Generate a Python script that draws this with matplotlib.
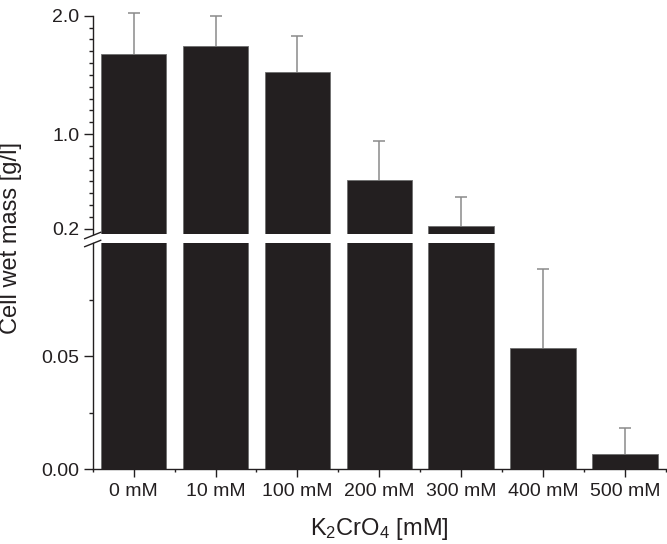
import matplotlib
matplotlib.use("Agg")
import matplotlib.pyplot as plt
from matplotlib.ticker import FixedLocator, MultipleLocator, FormatStrFormatter
from matplotlib.lines import Line2D

plt.rcParams['font.family'] = ['Liberation Sans', 'DejaVu Sans']
plt.rcParams['mathtext.fontset'] = 'custom'
plt.rcParams['mathtext.rm'] = 'Liberation Sans'
plt.rcParams['mathtext.it'] = 'Liberation Sans:italic'
plt.rcParams['mathtext.bf'] = 'Liberation Sans:bold'

categories = ['0 mM', '10 mM', '100 mM', '200 mM', '300 mM', '400 mM', '500 mM']
values = [1.674, 1.744, 1.527, 0.609, 0.225, 0.0534, 0.0065]
errors = [0.352, 0.254, 0.304, 0.335, 0.245, 0.0353, 0.0115]

upper_major = [0.2, 1.0, 2.0]
lower_major = [0.0, 0.05]
lower_minor = [0.025, 0.075]

BAR = '#231f20'
EDGE = '#6e6e6e'
ERR = '#8a8a8a'
AX = '#231f20'

W, H = 667, 544
fig = plt.figure(figsize=(W / 100, H / 100), dpi=100)

left = 92.7 / W
width = (666 - 92.7) / W
ax_lo = fig.add_axes([left, (H - 469) / H, width, (469 - 243.3) / H])
ax_hi = fig.add_axes([left, (H - 234) / H, width, (234 - 9.8) / H])

x = list(range(len(categories)))
for ax in (ax_lo, ax_hi):
    ax.bar(x, values, width=0.8, color=BAR, edgecolor=EDGE, linewidth=0.6, zorder=2)
    _, caps, _ = ax.errorbar(x, values, yerr=[[0] * len(values), errors], fmt='none',
                             ecolor=ERR, elinewidth=1.1, capsize=4, capthick=1.1, zorder=3)
    # hide the lower caps (one-sided error bars)
    if len(caps) == 2:
        caps[0].set_visible(False)
    ax.set_xlim(-0.5, 6.5)
    ax.spines['top'].set_visible(False)
    ax.spines['right'].set_visible(False)
    ax.spines['left'].set_linewidth(1.0)
    ax.spines['left'].set_color(AX)
    ax.tick_params(axis='y', which='major', direction='out', length=6.5, width=1.0,
                   color=AX, labelsize=14, pad=3, labelcolor='#231f20')
    ax.tick_params(axis='y', which='minor', direction='out', length=3.2, width=1.0, color=AX)
    ax.patch.set_alpha(0)

ax_hi.set_ylim(0.155, 2.05)
ax_hi.spines['left'].set_bounds(0.155, 2.0)
ax_hi.spines['bottom'].set_visible(False)
ax_hi.yaxis.set_major_locator(FixedLocator(upper_major))
ax_hi.yaxis.set_minor_locator(MultipleLocator(0.1))
ax_hi.yaxis.set_major_formatter(FormatStrFormatter('%.1f'))
ax_hi.set_xticks([])

ax_lo.set_ylim(0, 0.1)
ax_lo.yaxis.set_major_locator(FixedLocator(lower_major))
ax_lo.yaxis.set_minor_locator(FixedLocator(lower_minor))
ax_lo.yaxis.set_major_formatter(FormatStrFormatter('%.2f'))
ax_lo.spines['bottom'].set_linewidth(1.0)
ax_lo.spines['bottom'].set_color(AX)
ax_lo.set_xticks(x)
ax_lo.set_xticklabels(categories)
ax_lo.xaxis.set_minor_locator(FixedLocator([i - 0.5 for i in range(len(categories) + 1)]))
ax_lo.tick_params(axis='x', which='major', direction='out', length=6, width=1.0,
                  color=AX, labelsize=14, pad=4, labelcolor='#231f20')
ax_lo.tick_params(axis='x', which='minor', direction='out', length=2.5, width=1.0, color=AX)

# break marks
sx = left
dx = 8 / W
dy = 3.2 / H
for yc in ((H - 235.5) / H, (H - 243.5) / H):
    fig.add_artist(Line2D([sx - dx, sx + dx], [yc - dy, yc + dy],
                          color=AX, linewidth=1.0, transform=fig.transFigure))

fig.text(379 / W, (H - 535) / H, r'K$_2$CrO$_4$ [mM]', ha='center', va='baseline',
         fontsize=17, color='#231f20')
fig.text(11 / W, (H - 238) / H, 'Cell wet mass [g/l]', ha='center', va='center',
         rotation=90, fontsize=17, color='#231f20')

fig.savefig('out.png', dpi=100)
